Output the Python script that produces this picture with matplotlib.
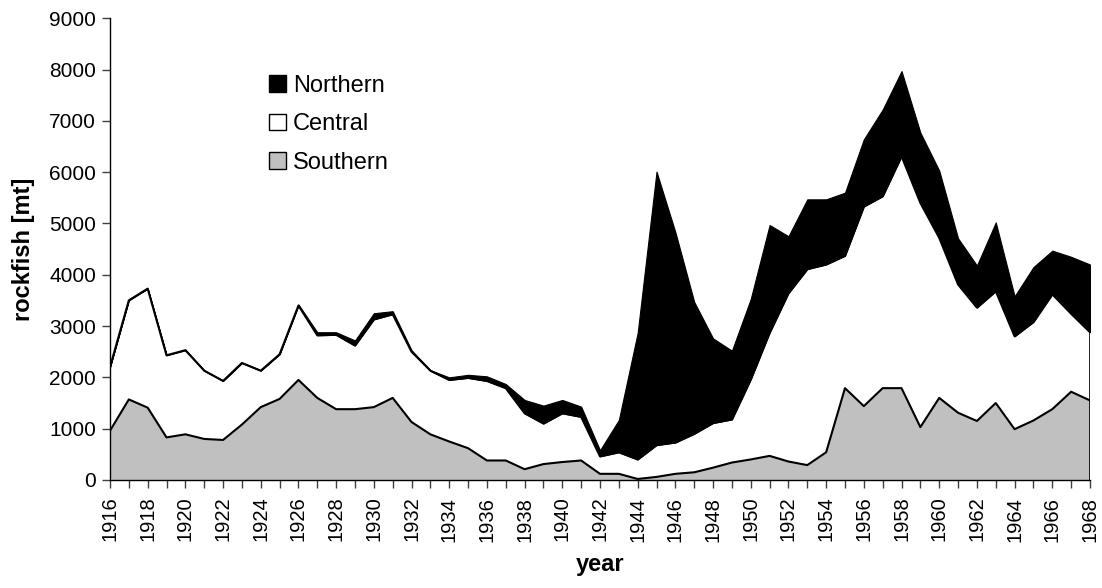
import matplotlib
matplotlib.use("Agg")
import matplotlib.pyplot as plt
from matplotlib.patches import Patch
import numpy as np

plt.rcParams['font.family'] = ['Liberation Sans', 'DejaVu Sans']

years = list(range(1916, 1969))
southern = [960, 1570, 1410, 830, 890, 800, 780, 1080, 1420, 1580,
            1950, 1600, 1380, 1380, 1420, 1600, 1130, 890, 750, 620,
            380, 380, 210, 310, 350, 380, 120, 120, 20, 60,
            120, 150, 240, 340, 400, 470, 360, 290, 540, 1790,
            1440, 1790, 1790, 1030, 1600, 1310, 1150, 1500, 990, 1160,
            1380, 1720, 1550]
south_central_top = [2200, 3500, 3730, 2430, 2530, 2130, 1930, 2280, 2130, 2450,
                     3400, 2820, 2830, 2620, 3130, 3230, 2500, 2130, 1950, 1990,
                     1930, 1790, 1300, 1100, 1300, 1230, 460, 540, 400, 680,
                     730, 900, 1110, 1180, 1960, 2870, 3640, 4110, 4200, 4370,
                     5330, 5530, 6310, 5400, 4720, 3810, 3360, 3680, 2800, 3080,
                     3620, 3240, 2880]
total_top = [2200, 3520, 3730, 2440, 2540, 2140, 1940, 2290, 2140, 2460,
             3420, 2880, 2880, 2720, 3250, 3290, 2530, 2140, 2000, 2050,
             2020, 1870, 1560, 1450, 1560, 1430, 580, 1170, 2870, 6010,
             4830, 3470, 2760, 2520, 3530, 4970, 4750, 5470, 5470, 5600,
             6640, 7220, 7970, 6770, 6030, 4710, 4180, 5020, 3580, 4150,
             4470, 4350, 4200]
central = [a - b for a, b in zip(south_central_top, southern)]
northern = [a - b for a, b in zip(total_top, south_central_top)]

x = np.array(years)
s = np.array(southern)
c = s + np.array(central)
t = c + np.array(northern)

fig = plt.figure(figsize=(11.02, 5.88), dpi=100)
ax = fig.add_axes([0.0998, 0.1837, 0.8893, 0.7853])

ax.fill_between(x, 0, s, facecolor='#c0c0c0', edgecolor='none', zorder=1)
ax.fill_between(x, s, c, facecolor='white', edgecolor='none', zorder=1)
ax.fill_between(x, c, t, facecolor='black', edgecolor='black', linewidth=0.8, zorder=2)
ax.plot(x, s, color='black', linewidth=1.5, zorder=3)
ax.plot(x, c, color='black', linewidth=1.5, zorder=3)
ax.vlines(x[-1], 0, t[-1], color='black', linewidth=1.2, zorder=3)

ax.set_xlim(years[0], years[-1])
ax.set_ylim(0, 9000)
ax.set_yticks(range(0, 9001, 1000))
ax.set_xticks(years)
ax.set_xticklabels([str(y) if (y % 2 == 0) else '' for y in years], rotation=90)
ax.tick_params(axis='both', direction='out', length=6, width=1, color='#404040')
ax.tick_params(axis='y', labelsize=15, pad=4)
ax.tick_params(axis='x', labelsize=14.5, pad=6)

for sp in ['top', 'right']:
    ax.spines[sp].set_visible(False)
ax.spines['left'].set_linewidth(1)
ax.spines['bottom'].set_linewidth(1)

ax.set_ylabel('rockfish [mt]', fontsize=17, fontweight='bold', labelpad=10)
ax.set_xlabel('year', fontsize=17, fontweight='bold', labelpad=8)

handles = [Patch(facecolor='black', edgecolor='black', label='Northern'),
           Patch(facecolor='white', edgecolor='black', label='Central'),
           Patch(facecolor='#c0c0c0', edgecolor='black', label='Southern')]
fig.legend(handles=handles, loc='upper left', bbox_to_anchor=(269 / 1102, 1 - 75 / 588),
           frameon=False, fontsize=17, handlelength=0.72, handleheight=0.72,
           handletextpad=0.3, labelspacing=0.69, borderpad=0, borderaxespad=0)

fig.savefig('out.png', dpi=100)
